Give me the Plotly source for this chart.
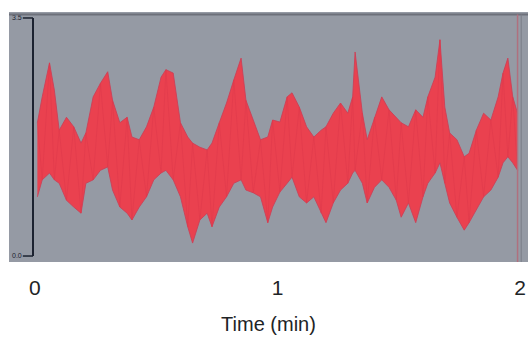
import plotly.graph_objects as go

# Time (min) sample positions
time_min = [0.01, 0.03, 0.06, 0.08, 0.10, 0.13, 0.16, 0.19, 0.21, 0.24,
            0.27, 0.30, 0.32, 0.35, 0.38, 0.40, 0.43, 0.46, 0.49, 0.52,
            0.54, 0.57, 0.60, 0.63, 0.65, 0.68, 0.71, 0.73, 0.76, 0.79,
            0.82, 0.85, 0.87, 0.90, 0.93, 0.96, 0.98, 1.01, 1.04, 1.06,
            1.09, 1.12, 1.15, 1.18, 1.20, 1.23, 1.26, 1.29, 1.31, 1.32,
            1.35, 1.37, 1.40, 1.43, 1.46, 1.49, 1.51, 1.54, 1.57, 1.60,
            1.62, 1.65, 1.67, 1.69, 1.71, 1.74, 1.77, 1.79, 1.82, 1.85,
            1.88, 1.91, 1.93, 1.95, 1.97, 1.99]

# Upper envelope of the trace
upper = [1.96, 2.34, 2.84, 2.44, 1.85, 2.04, 1.90, 1.66, 1.81, 2.34,
         2.54, 2.71, 2.29, 1.96, 2.04, 1.75, 1.71, 1.90, 2.19, 2.63,
         2.74, 2.69, 1.96, 1.75, 1.66, 1.60, 1.56, 1.66, 1.96, 2.25,
         2.59, 2.91, 2.29, 2.00, 1.71, 1.75, 2.00, 1.97, 2.34, 2.40,
         2.19, 1.90, 1.75, 1.85, 1.90, 2.10, 2.25, 2.10, 2.34, 3.00,
         2.10, 1.71, 2.04, 2.34, 2.15, 2.04, 1.96, 1.90, 2.15, 2.04,
         2.34, 2.63, 3.18, 2.19, 1.81, 1.71, 1.46, 1.51, 1.85, 2.10,
         2.00, 2.34, 2.69, 2.91, 2.34, 2.10]

# Lower envelope of the trace
lower = [0.87, 1.12, 1.22, 1.12, 1.07, 0.82, 0.72, 0.63, 1.07, 1.12,
         1.26, 1.31, 0.97, 0.72, 0.63, 0.53, 0.72, 0.87, 1.12, 1.22,
         1.26, 1.12, 0.87, 0.43, 0.19, 0.53, 0.63, 0.43, 0.72, 0.87,
         1.07, 1.12, 0.97, 0.93, 0.87, 0.49, 0.72, 0.94, 1.07, 1.16,
         0.87, 0.78, 0.87, 0.63, 0.49, 0.78, 0.97, 1.07, 1.22, 1.26,
         1.07, 0.78, 1.01, 1.12, 1.01, 0.82, 0.57, 0.78, 0.49, 0.87,
         1.07, 1.22, 1.37, 1.07, 0.78, 0.57, 0.38, 0.49, 0.68, 0.87,
         0.97, 1.16, 1.37, 1.46, 1.37, 1.26]

x_ticks = [0, 1, 2]
x_tick_text = ["0", "1", "2"]
y_ticks = [0, 3.5]
y_tick_text = ["0.0", "3.5"]

FONT = "Liberation Sans, Arial, sans-serif"

# oscillating trace: alternates between the two read envelopes at each sample
zig_x, zig_y = [], []
for i, t in enumerate(time_min):
    zig_x.append(t)
    zig_y.append(upper[i] if i % 2 == 0 else lower[i])

fig = go.Figure()
fig.add_trace(go.Scatter(x=time_min, y=lower, mode="lines",
                         line=dict(color="rgba(205,62,86,0.85)", width=1),
                         hoverinfo="skip", showlegend=False))
fig.add_trace(go.Scatter(x=time_min, y=upper, mode="lines", fill="tonexty",
                         fillcolor="rgba(240,58,72,0.93)",
                         line=dict(color="rgba(205,62,86,0.85)", width=1),
                         hoverinfo="skip", showlegend=False))
fig.add_trace(go.Scatter(x=zig_x, y=zig_y, mode="lines",
                         line=dict(color="rgba(222,56,74,0.55)", width=1),
                         hoverinfo="skip", showlegend=False))

shapes = [
    dict(type="line", xref="x", yref="y", x0=-0.008, x1=-0.008, y0=0, y1=3.5,
         line=dict(color="#1c2230", width=2)),
    dict(type="line", xref="x", yref="y", x0=-0.05, x1=-0.008, y0=3.5, y1=3.5,
         line=dict(color="#1c2230", width=1.5)),
    dict(type="line", xref="x", yref="y", x0=-0.05, x1=-0.008, y0=0, y1=0,
         line=dict(color="#1c2230", width=1.5)),
    dict(type="line", xref="paper", yref="paper", x0=0, x1=1, y0=0.99, y1=0.99,
         line=dict(color="#6d707a", width=2)),
    dict(type="line", xref="x", yref="paper", x0=1.99, x1=1.99, y0=0, y1=0.99,
         line=dict(color="#b0707e", width=1.5)),
    dict(type="line", xref="x", yref="paper", x0=2.005, x1=2.005, y0=0, y1=0.99,
         line=dict(color="#7a7e88", width=1)),
]

fig.update_layout(
    width=531, height=339,
    margin=dict(l=9, r=3, t=12, b=77),
    paper_bgcolor="white",
    plot_bgcolor="#959aa4",
    shapes=shapes,
    showlegend=False,
    xaxis=dict(range=[-0.107, 2.033], tickvals=x_ticks, ticktext=x_tick_text,
               showgrid=False, zeroline=False, showline=False, ticks="",
               tickfont=dict(family=FONT, size=21, color="#1e2426"),
               ticklabelstandoff=11,
               title=dict(text="Time (min)", standoff=18,
                          font=dict(family=FONT, size=20, color="#1e2426"))),
    yaxis=dict(range=[-0.088, 3.588], tickvals=y_ticks, ticktext=y_tick_text,
               showgrid=False, zeroline=False, showline=False, ticks="",
               ticklabelposition="inside",
               tickfont=dict(family=FONT, size=7, color="#1c2230")),
)

fig.write_html("out.html")
